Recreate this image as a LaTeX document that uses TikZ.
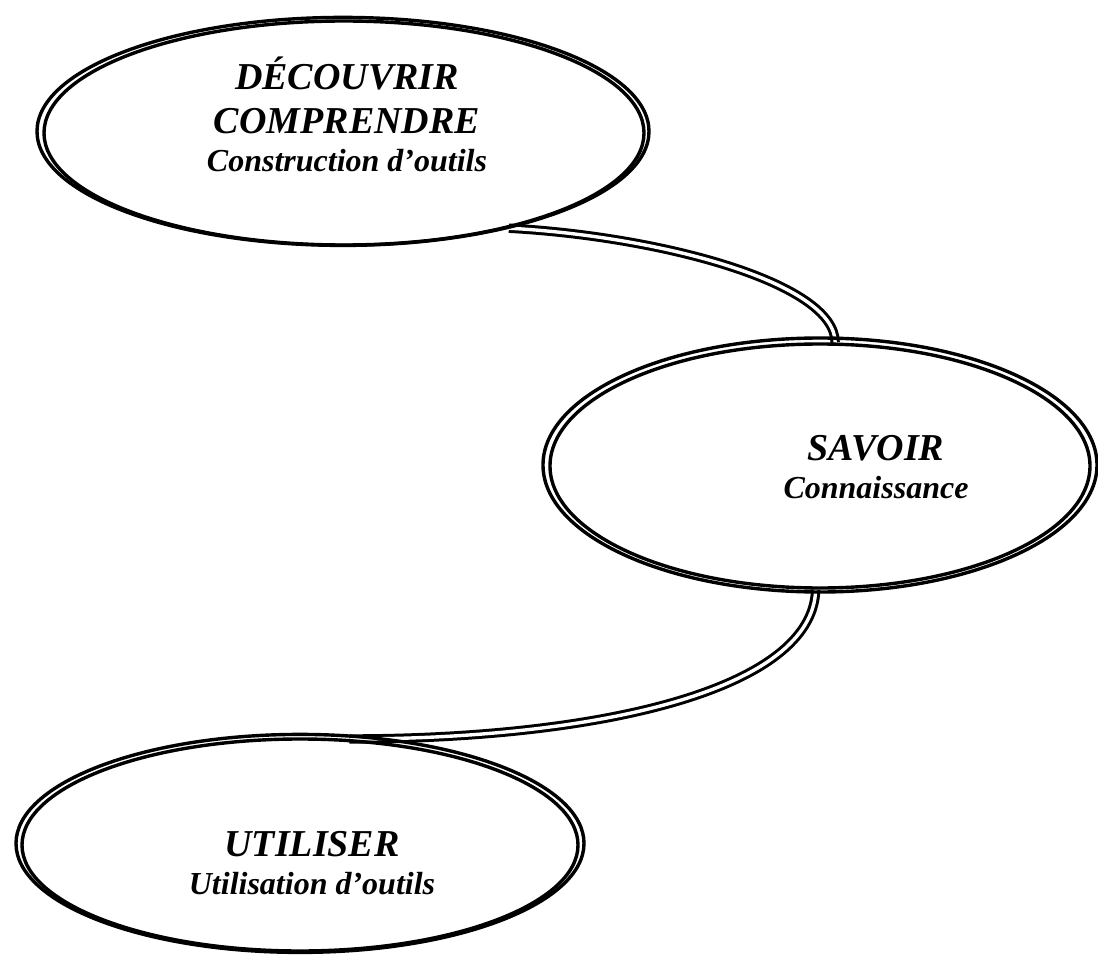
\documentclass[tikz,border=0pt]{standalone}
\usepackage{fontspec}
\setmainfont{Liberation Serif}
\usetikzlibrary{positioning, shapes.geometric, backgrounds}

\newcommand{\smallline}{\fontsize{16pt}{19pt}\selectfont}

\begin{document}
\begin{tikzpicture}[x=0.5pt, y=-0.5pt,
    stage/.style={draw, line width=1.7pt, ellipse, inner sep=0pt},
    rim/.style={line width=1.7pt},
    link/.style={line width=1.5pt, double=white, double distance=1.7pt},
    caption/.style={align=center, font=\bfseries\itshape\fontsize{19pt}{22pt}\selectfont}]
    \useasboundingbox (0, 0) rectangle (1098, 957);

    \node (find) [stage, minimum width=300pt, minimum height=112pt] at (344, 133) {};
    \draw [rim] ([xshift=-0.5pt, yshift=0.8pt]find.center) ellipse [x radius=153pt, y radius=57pt];
    \node (findtext) [caption] at (347, 114) {DÉCOUVRIR\\COMPRENDRE\\[-3pt]{\smallline Construction d’outils}};

    \node (know) [stage, minimum width=270pt, minimum height=122pt] at (820, 466) {};
    \draw [rim] ([yshift=0.5pt]know.center) ellipse [x radius=138.5pt, y radius=63.5pt];
    \node (knowtext) [caption] at (876, 467) {SAVOIR\\[-3pt]{\smallline Connaissance}};

    \node (use) [stage, minimum width=278pt, minimum height=106pt] at (300, 845) {};
    \draw [rim] ([yshift=0.8pt]use.center) ellipse [x radius=142pt, y radius=54.5pt];
    \node (usetext) [caption] at (312, 863) {UTILISER\\[-3pt]{\smallline Utilisation d’outils}};

    \begin{scope}[on background layer]
        \draw [link] (find.-30) .. controls +(150, 8) and +(0, -60) .. (know.83);
        \draw [link] (know.-92) .. controls +(-3, 100) and +(250, 0) .. (use.65);
    \end{scope}
\end{tikzpicture}
\end{document}
